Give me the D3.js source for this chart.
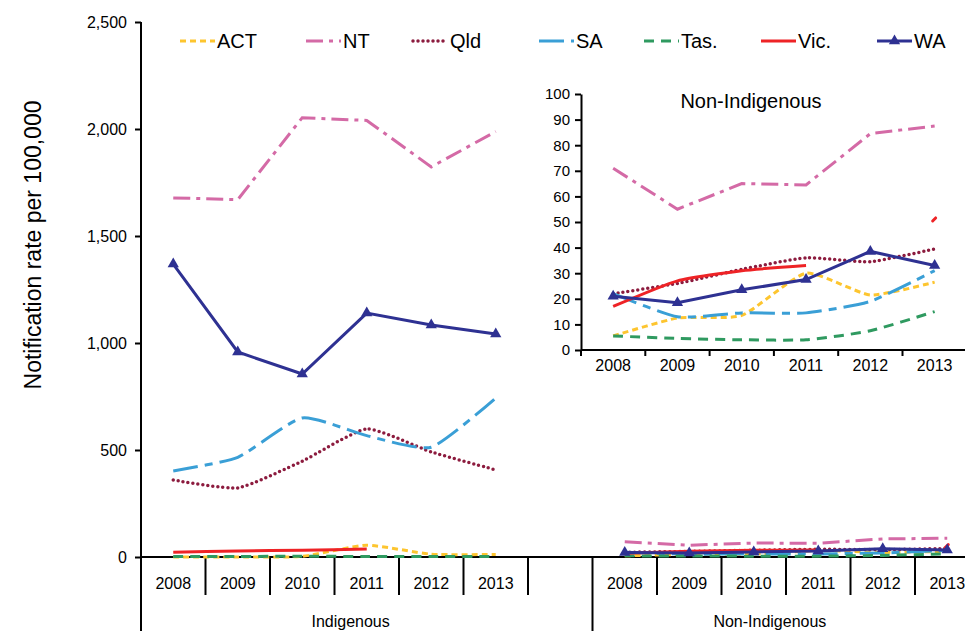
<!DOCTYPE html>
<html>
<head>
<meta charset="utf-8">
<script src="https://cdn.jsdelivr.net/npm/d3@7"></script>
<style>
	body { margin: 0; background: #fff; }
	svg { display: block; font-family: "Liberation Sans", Arial, sans-serif; }
	.axis path, .axis line { stroke: #000; stroke-width: 2px; }
	.axis text { fill: #000; }
</style>
</head>
<body>
<svg id="chart" width="965" height="631"></svg>
<script>
// categories
var years = ['2008', '2009', '2010', '2011', '2012', '2013'];
var groups = ['Indigenous', 'Non-Indigenous'];
var states = ['ACT', 'NT', 'Qld', 'SA', 'Tas.', 'Vic.', 'WA'];

// Indigenous notification rates per 100,000
var actIndig = [0, 0, 3, 55, 13, 12];
var ntIndig = [1678, 1670, 2053, 2040, 1823, 1988];
var qldIndig = [360, 323, 448, 598, 491, 407];
var saIndig = [402, 466, 650, 567, 513, 743];
var tasIndig = [2, 2, 4, 2, 2, 2];
var vicIndig = [22, 28, 32, 37, null, null];
var waIndig = [1369, 958, 855, 1140, 1084, 1042];

// Non-Indigenous notification rates per 100,000
var actNon = [5.5, 12.5, 13.5, 30, 21.5, 26.5];
var ntNon = [71, 55, 65, 64.5, 84.5, 87.5];
var qldNon = [22, 26, 31.5, 36, 34.5, 39.5];
var saNon = [22, 13, 14.5, 14.5, 19, 31];
var tasNon = [5.5, 4.5, 4, 4, 7.5, 15];
var vicNon = [17, 27, 31, 33, null, 51];
var waNon = [21, 18.5, 23.5, 27.5, 38.5, 33];

// tick values
var mainTicks = [0, 500, 1000, 1500, 2000, 2500];
var insetTicks = [0, 10, 20, 30, 40, 50, 60, 70, 80, 90, 100];

// look of each state: colour, dash, smoothing
var stateColors = ['#fdc52f', '#d46aa6', '#8c1b3e', '#3a9fd6', '#2f9a60', '#ee2326', '#2e3192'];
var stateDash = ['6,4', '17,6,4,6', '0,5', '25,7,8,7', '10,7', null, null];
var stateSmooth = [true, false, true, true, true, true, false];
// left edge of each legend label
var legendTextX = [217, 343, 450, 576, 681, 798, 914];

var indigRows = [actIndig, ntIndig, qldIndig, saIndig, tasIndig, vicIndig, waIndig];
var nonRows = [actNon, ntNon, qldNon, saNon, tasNon, vicNon, waNon];

var svg = d3.select('#chart');

// ---- main chart ----
var slots = [];
years.forEach(function (y) { slots.push('I' + y); });
slots.push('gap');
years.forEach(function (y) { slots.push('N' + y); });

var x = d3.scaleBand().domain(slots).range([141, 141 + slots.length * 64.5]);
var y = d3.scaleLinear().domain([0, 2500]).range([557, 22]);

var series = states.map(function (s, i) {
	var vals = indigRows[i].map(function (v, j) { return {key: 'I' + years[j], v: v}; })
		.concat([{key: 'gap', v: null}])
		.concat(nonRows[i].map(function (v, j) { return {key: 'N' + years[j], v: v}; }));
	return {name: s, color: stateColors[i], dash: stateDash[i], smooth: stateSmooth[i], vals: vals};
});

var yAxis = svg.append('g').attr('class', 'axis')
	.attr('transform', 'translate(141,0)')
	.call(d3.axisLeft(y).tickValues(mainTicks).tickFormat(d3.format(',')).tickSize(6).tickSizeOuter(0).tickPadding(8));
yAxis.select('.domain').remove();
yAxis.selectAll('text').attr('font-size', 16);
svg.append('line').attr('x1', 141).attr('x2', 141).attr('y1', 22).attr('y2', 631)
	.attr('stroke', '#000').attr('stroke-width', 2);

// category axis with two levels
var xg = svg.append('g').attr('class', 'axis');
xg.append('line').attr('x1', 141).attr('x2', x.range()[1]).attr('y1', 557).attr('y2', 557);
slots.forEach(function (k, i) {
	var bx = x(k);
	var groupEdge = (i == 0 || k == 'N2008');
	xg.append('line').attr('x1', bx).attr('x2', bx).attr('y1', 557).attr('y2', groupEdge ? 631 : 595);
	if (k != 'gap') {
		xg.append('text').attr('x', bx + x.bandwidth() / 2).attr('y', 589)
			.attr('text-anchor', 'middle').attr('font-size', 16).text(k.slice(1));
	}
});
[['I2008', 'gap'], ['N2008', 'N2013']].forEach(function (g, i) {
	var cx = (x(g[0]) + x(g[1]) + x.bandwidth() / 2) / 2;
	xg.append('text').attr('x', cx).attr('y', 627)
		.attr('text-anchor', 'middle').attr('font-size', 16).text(groups[i]);
});

svg.append('text')
	.attr('transform', 'translate(41,245) rotate(-90)')
	.attr('text-anchor', 'middle').attr('font-size', 23).text('Notification rate per 100,000');

function drawSeries(target, list, xs, ys, keyOf) {
	list.forEach(function (s) {
		var line = d3.line()
			.defined(function (d) { return d.v != null; })
			.x(function (d) { return xs(keyOf(d)) + xs.bandwidth() / 2; })
			.y(function (d) { return ys(d.v); })
			.curve(s.smooth ? d3.curveCardinal.tension(0.45) : d3.curveLinear);
		target.append('path').datum(s.vals)
			.attr('d', line)
			.attr('fill', 'none')
			.attr('stroke', s.color)
			.attr('stroke-width', s.name == 'Qld' ? 3.5 : 3)
			.attr('stroke-linecap', s.name == 'Qld' ? 'round' : 'butt')
			.attr('stroke-dasharray', s.dash);

		// lone points (no neighbours) get a short stroke
		s.vals.forEach(function (d, i) {
			var prev = s.vals[i - 1], next = s.vals[i + 1];
			if (d.v != null && (!prev || prev.v == null) && (!next || next.v == null)) {
				var px = xs(keyOf(d)) + xs.bandwidth() / 2, py = ys(d.v);
				target.append('line').attr('x1', px - 2).attr('x2', px + 1).attr('y1', py + 1.5).attr('y2', py - 1.5)
					.attr('stroke', s.color).attr('stroke-width', 3).attr('stroke-linecap', 'round');
			}
		});

		if (s.name == 'WA') {
			target.selectAll(null).data(s.vals.filter(function (d) { return d.v != null; }))
				.enter().append('path')
				.attr('d', d3.symbol(d3.symbolTriangle, 55))
				.attr('transform', function (d) { return 'translate(' + (xs(keyOf(d)) + xs.bandwidth() / 2) + ',' + ys(d.v) + ')'; })
				.attr('fill', s.color);
		}
	});
}

drawSeries(svg.append('g'), series, x, y, function (d) { return d.key; });

// ---- inset: Non-Indigenous only ----
var ix = d3.scaleBand().domain(years).range([581, 581 + 6 * 64.3]);
var iy = d3.scaleLinear().domain([0, 100]).range([350, 94]);

var iyAxis = svg.append('g').attr('class', 'axis')
	.attr('transform', 'translate(581,0)')
	.call(d3.axisLeft(iy).tickValues(insetTicks).tickSize(6).tickSizeOuter(0).tickPadding(5));
iyAxis.selectAll('text').attr('font-size', 15);

var ixg = svg.append('g').attr('class', 'axis');
ixg.append('line').attr('x1', 581).attr('x2', ix.range()[1]).attr('y1', 350).attr('y2', 350);
years.forEach(function (yr) {
	ixg.append('line').attr('x1', ix(yr)).attr('x2', ix(yr)).attr('y1', 350).attr('y2', 356);
	ixg.append('text').attr('x', ix(yr) + ix.bandwidth() / 2).attr('y', 371)
		.attr('text-anchor', 'middle').attr('font-size', 16).text(yr);
});
ixg.append('line').attr('x1', ix.range()[1]).attr('x2', ix.range()[1]).attr('y1', 350).attr('y2', 356);

svg.append('text').attr('x', 751).attr('y', 108).attr('text-anchor', 'middle')
	.attr('font-size', 20).text('Non-Indigenous');

var insetSeries = states.map(function (s, i) {
	return {name: s, color: stateColors[i], dash: stateDash[i], smooth: stateSmooth[i],
		vals: nonRows[i].map(function (v, j) { return {key: years[j], v: v}; })};
});
drawSeries(svg.append('g'), insetSeries, ix, iy, function (d) { return d.key; });

// ---- legend ----
var legend = svg.append('g');
series.forEach(function (s, i) {
	var tx = legendTextX[i];
	legend.append('line').attr('x1', tx - 37).attr('x2', tx - 2).attr('y1', 41).attr('y2', 41)
		.attr('stroke', s.color)
		.attr('stroke-width', s.name == 'Qld' ? 3.5 : 3)
		.attr('stroke-linecap', s.name == 'Qld' ? 'round' : 'butt')
		.attr('stroke-dasharray', s.dash);
	if (s.name == 'WA') {
		legend.append('path').attr('d', d3.symbol(d3.symbolTriangle, 55))
			.attr('transform', 'translate(' + (tx - 19.5) + ',41)').attr('fill', s.color);
	}
	legend.append('text').attr('x', tx).attr('y', 48).attr('font-size', 20).text(s.name);
});
</script>
</body>
</html>
